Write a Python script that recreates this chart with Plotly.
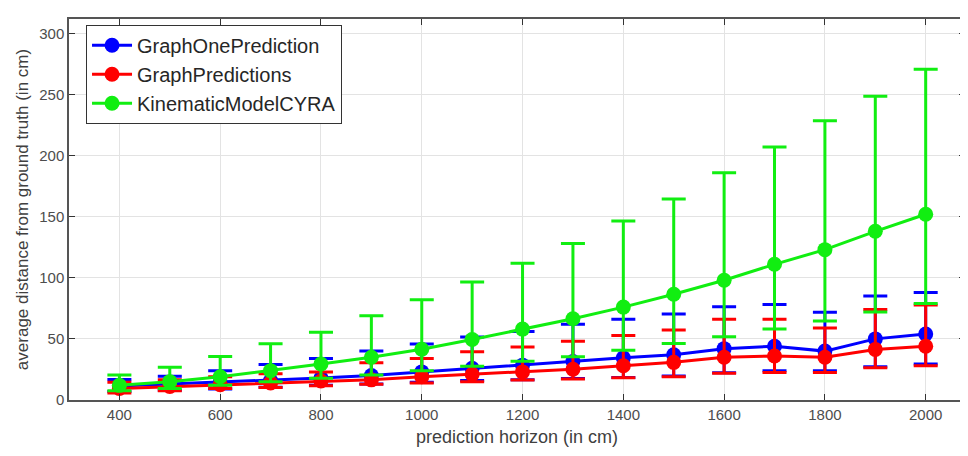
import plotly.graph_objects as go

horizon = [400, 500, 600, 700, 800, 900, 1000, 1100, 1200, 1300, 1400, 1500, 1600, 1700, 1800, 1900, 2000]

one_mean = [11.5, 13, 14.5, 16, 18, 20, 23, 26, 28.5, 31.5, 34.5, 37, 42, 44, 40, 50, 54]
one_upper = [16.8, 19.5, 24, 29, 34, 40, 45.8, 51.6, 56, 62, 66, 70.3, 76.3, 78.2, 71.7, 85, 88]
one_lower = [7, 8, 9, 10.5, 12, 13, 14.5, 16, 16.5, 17.5, 18.5, 19.6, 22.3, 24, 24, 27.3, 29.4]

graph_mean = [9.5, 11, 12.5, 14, 15.5, 16.5, 19, 21, 23, 25.2, 28, 30.8, 35, 36, 35, 41.4, 44]
graph_upper = [14.5, 16.5, 19, 21.5, 23, 30.5, 34, 39.4, 43.4, 48, 52.8, 57.2, 66, 66, 59, 74, 77.7]
graph_lower = [5.8, 7.6, 9.5, 10.2, 11.7, 12.8, 14, 15, 16.3, 17.1, 18.3, 19, 21.8, 22.6, 22.6, 26.4, 28]

kin_mean = [12, 15, 19, 24, 29.5, 35, 41.5, 49.5, 58, 66.5, 76, 86.5, 98, 111, 123, 138, 152]
kin_upper = [20.4, 26.8, 35.5, 46, 55.5, 69, 82, 96.5, 111.8, 128, 146.5, 164.5, 186, 207, 228.5, 248.5, 270.5]
kin_lower = [7.5, 9.5, 12, 15, 17.7, 20.4, 24, 27.7, 31.8, 35.3, 40.8, 46.3, 51.8, 58, 64.6, 72, 79]

names = ["GraphOnePrediction", "GraphPredictions", "KinematicModelCYRA"]
colors = ["#0000ff", "#ff0000", "#11ee11"]
series = [(one_mean, one_upper, one_lower), (graph_mean, graph_upper, graph_lower), (kin_mean, kin_upper, kin_lower)]

fig = go.Figure()
for name, color, (m, up, lo) in zip(names, colors, series):
    fig.add_trace(go.Scatter(
        x=horizon, y=m, name=name, mode="lines+markers",
        line=dict(color=color, width=3),
        marker=dict(color=color, size=15, symbol="circle"),
        error_y=dict(type="data", symmetric=False,
                     array=[u - v for u, v in zip(up, m)],
                     arrayminus=[v - l for v, l in zip(m, lo)],
                     color=color, thickness=3, width=12),
    ))

FONT = "Liberation Sans, Arial, sans-serif"
axis_common = dict(
    showgrid=True, gridcolor="#e3e3e3", gridwidth=1,
    showline=True, linecolor="#555555", linewidth=1.5, mirror="ticks",
    ticks="inside", ticklen=6, tickcolor="#333333",
    tickfont=dict(family=FONT, size=15, color="#4d4d4d"),
    zeroline=False,
)

fig.update_layout(
    width=968, height=456,
    margin=dict(l=61, r=10, t=9, b=64),
    paper_bgcolor="white", plot_bgcolor="white",
    font=dict(family=FONT, color="#404040"),
    xaxis=dict(range=[300, 2078], tickvals=[400, 600, 800, 1000, 1200, 1400, 1600, 1800, 2000],
               title=dict(text="prediction horizon (in cm)", font=dict(size=18, color="#404040"), standoff=9),
               **axis_common),
    yaxis=dict(range=[0, 311.7], tickvals=[0, 50, 100, 150, 200, 250, 300],
               title=dict(text="average distance from ground truth (in cm)", font=dict(size=17, color="#404040"), standoff=6),
               **axis_common),
    legend=dict(x=0.019, y=0.985, xanchor="left", yanchor="top",
                bgcolor="white", bordercolor="#333333", borderwidth=1,
                font=dict(family=FONT, size=20, color="#262626"),
                itemwidth=40, tracegroupgap=0),
    showlegend=True,
)

fig.write_html("out.html")
